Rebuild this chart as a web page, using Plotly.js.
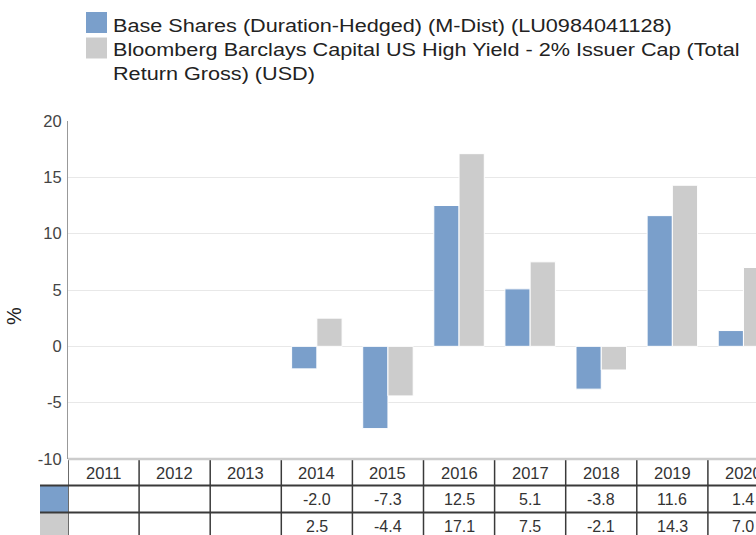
<!DOCTYPE html>
<html>
<head>
<meta charset="utf-8">
<script src="https://cdn.plot.ly/plotly-3.0.1.min.js"></script>
<style>
html,body{margin:0;padding:0;overflow:hidden;background:#fff;}
#chart{width:800px;height:535px;}
</style>
</head>
<body>
<div id="chart"></div>
<script>
// ---- data ----
var years = ["2011","2012","2013","2014","2015","2016","2017","2018","2019","2020"];
var fundValues = [null, null, null, -2.0, -7.3, 12.5, 5.1, -3.8, 11.6, 1.4];
var benchValues = [null, null, null, 2.5, -4.4, 17.1, 7.5, -2.1, 14.3, 7.0];
var seriesNames = [
  "Base Shares (Duration-Hedged) (M-Dist) (LU0984041128)",
  "Bloomberg Barclays Capital US High Yield - 2% Issuer Cap (Total<br>Return Gross) (USD)"
];
var seriesColors = ["#7a9fcb", "#cccccc"];
var yTicks = [-10, -5, 0, 5, 10, 15, 20];
var yUnit = "%";

// ---- layout geometry (pixels) ----
var W = 800, H = 535;
var L = 68, R = 779, T = 121, B = 459;
function px(x){ return (x - L) / (R - L); }
function py(y){ return (B - y) / (B - T); }
var FONT = "Liberation Sans, Arial, sans-serif";

var traces = [
  {type:"bar", x: years, y: fundValues, name: seriesNames[0],
   marker:{color: seriesColors[0], line:{color:"#ffffff", width:1}}, hoverinfo:"x+y"},
  {type:"bar", x: years, y: benchValues, name: seriesNames[1],
   marker:{color: seriesColors[1], line:{color:"#ffffff", width:1}}, hoverinfo:"x+y"}
];

var shapes = [];
var annotations = [];
var dark = "#3a3a3a";

// legend
var swTops = [12, 37.5];
var txTops = [13, 36.5];
for (var s = 0; s < 2; s++) {
  var sy = swTops[s];
  shapes.push({type:"rect", xref:"paper", yref:"paper",
    x0: px(86), x1: px(107), y0: py(sy), y1: py(sy + 21),
    fillcolor: seriesColors[s], line:{width:0}});
  annotations.push({xref:"paper", yref:"paper", x: px(111), y: py(txTops[s]),
    xanchor:"left", yanchor:"top", align:"left", showarrow:false,
    text: seriesNames[s], name: "legend" + s,
    font:{family: FONT, size:18.5, color:"#222"}});
}

// y unit label
annotations.push({xref:"paper", yref:"paper", x: px(14), y: py(316), xanchor:"center", yanchor:"middle",
  showarrow:false, textangle:-90, text: yUnit, font:{family: FONT, size:20, color:"#222"}});

// table rows (pixel y)
var rowTop = [459, 485.5, 512.5];
var rowBot = [485.5, 512.5, 540];

// color cells
for (var s2 = 0; s2 < 2; s2++) {
  shapes.push({type:"rect", xref:"paper", yref:"paper",
    x0: px(40), x1: px(68), y0: py(rowTop[s2+1]), y1: py(rowBot[s2+1]),
    fillcolor: seriesColors[s2], line:{width:0}});
}
// horizontal row separators
for (var r = 1; r < 3; r++) {
  shapes.push({type:"line", xref:"paper", yref:"paper",
    x0: px(40), x1: 1.2, y0: py(rowTop[r]), y1: py(rowTop[r]),
    line:{color: dark, width:2}});
}
// vertical column lines
for (var c = 0; c <= years.length; c++) {
  shapes.push({type:"line", xref:"x", yref:"paper",
    x0: c - 0.5, x1: c - 0.5, y0: py(459), y1: py(540),
    line:{color: dark, width:1.5}});
}
// header top line (light gray)
shapes.push({type:"line", xref:"paper", yref:"paper",
  x0: 0, x1: 1.2, y0: 0, y1: 0, line:{color:"#cccccc", width:2.5}});

// table texts
var fmt = function(v){ return v === null ? "" : v.toFixed(1); };
for (var i = 0; i < years.length; i++) {
  annotations.push({xref:"x", yref:"paper", x: i, y: py(473), xanchor:"center", yanchor:"middle",
    showarrow:false, text: years[i], font:{family: FONT, size:16.5, color:"#333"}});
  annotations.push({xref:"x", yref:"paper", x: i, y: py(499.5), xanchor:"center", yanchor:"middle",
    showarrow:false, text: fmt(fundValues[i]), font:{family: FONT, size:16, color:"#333"}});
  annotations.push({xref:"x", yref:"paper", x: i, y: py(526), xanchor:"center", yanchor:"middle",
    showarrow:false, text: fmt(benchValues[i]), font:{family: FONT, size:16, color:"#333"}});
}

var layout = {
  width: W, height: H,
  margin:{l: L, r: W - R, t: T, b: H - B, pad:0},
  paper_bgcolor:"#ffffff", plot_bgcolor:"#ffffff",
  showlegend:false,
  barmode:"group", bargap:0.29, bargroupgap:0,
  font:{family: FONT, color:"#444"},
  xaxis:{type:"category", range:[-0.5, years.length - 0.5], showticklabels:false,
    showgrid:false, zeroline:false, showline:false, ticks:"", fixedrange:true},
  yaxis:{range:[-10, 20], tickvals: yTicks, ticktext: yTicks.map(String),
    showgrid:true, gridcolor:"#e8e8e8", gridwidth:1, zeroline:false,
    showline:true, linecolor:"#999999", linewidth:1, ticks:"", ticklen:0,
    ticklabelstandoff:2,
    tickfont:{size:16.5, color:"#444"}, fixedrange:true},
  shapes: shapes,
  annotations: annotations
};

Plotly.newPlot("chart", traces, layout, {displayModeBar:false, staticPlot:true}).then(function(gd){
  // the reference legend lettering is horizontally wider than Arial: stretch it slightly
  var SX = 1.17;
  var groups = gd.querySelectorAll(".annotation");
  for (var k = 0; k < 2 && k < groups.length; k++) {
    var t = groups[k].querySelector("text");
    if (!t) continue;
    var bb = t.getBBox();
    var ax = bb.x;
    var prev = t.getAttribute("transform") || "";
    t.setAttribute("transform", prev + " translate(" + ax + ",0) scale(" + SX + ",1) translate(" + (-ax) + ",0)");
  }
});
</script>
</body>
</html>
